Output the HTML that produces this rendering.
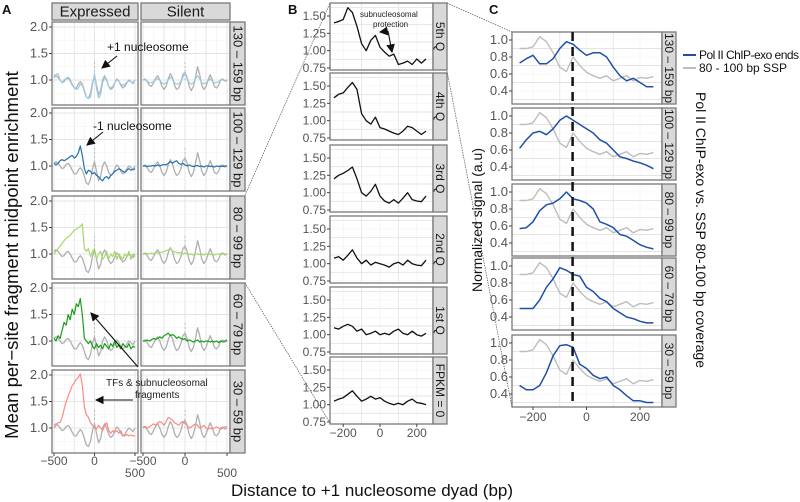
<!DOCTYPE html>
<html><head><meta charset="utf-8"><style>
body{margin:0;background:#fff;}
svg{display:block;font-family:"Liberation Sans",sans-serif;}
</style></head><body>
<svg id="fig" width="800" height="502" viewBox="0 0 800 502" xmlns="http://www.w3.org/2000/svg"></svg>
<script>
// ---------- DATA ----------
const xA = [-500,-475,-450,-425,-400,-375,-350,-325,-300,-275,-250,-225,-200,-175,-150,-125,-100,-75,-50,-25,0,25,50,75,100,125,150,175,200,225,250,275,300,325,350,375,400,425,450,475,500];
const grayExp = [1.05,1.08,1.05,1.0,0.95,0.97,1.03,1.05,1.0,0.92,0.85,0.85,0.92,0.97,0.92,0.8,0.68,0.65,0.75,0.95,1.08,0.9,0.72,0.8,1.0,1.08,1.0,0.88,0.82,0.85,0.95,1.02,0.98,0.9,0.85,0.88,0.95,1.0,0.97,0.93,1.0];
const graySil = [1.0,1.02,0.97,0.9,0.88,0.95,1.03,1.08,1.0,0.88,0.82,0.88,1.02,1.12,1.05,0.9,0.82,0.85,0.95,1.1,1.15,1.05,0.88,0.8,0.88,1.05,1.25,1.1,0.9,0.82,0.88,1.0,1.1,1.0,0.88,0.85,0.9,1.0,1.02,0.98,1.0];
const r1e = [1.08,1.1,1.12,1.0,0.95,1.0,1.03,1.02,0.98,0.9,0.86,0.82,0.85,0.92,0.9,0.78,0.68,0.65,0.68,0.9,1.12,0.85,0.66,0.72,0.95,1.05,0.98,0.88,0.85,0.88,0.95,1.0,0.98,0.92,0.9,0.92,0.96,0.98,0.97,0.95,1.0];
const r1s = [1.0,1.0,0.98,0.95,0.95,0.97,1.0,1.02,1.0,0.95,0.92,0.95,1.0,1.05,1.02,0.95,0.92,0.93,0.97,1.05,1.15,1.02,0.95,0.92,0.95,1.02,1.08,1.02,0.95,0.93,0.95,0.98,1.02,0.98,0.95,0.95,0.97,1.0,1.0,0.98,0.98];
const r2e = [1.05,1.02,1.05,1.1,1.12,1.1,1.12,1.15,1.18,1.2,1.15,1.18,1.25,1.38,1.2,0.95,0.85,0.92,0.9,0.85,0.88,0.82,0.8,0.75,0.72,0.78,0.8,0.76,0.82,0.85,0.9,0.92,0.95,0.93,0.9,0.88,0.92,0.95,0.92,0.93,0.95];
const r2s = [1.0,1.0,0.99,1.0,1.0,1.01,1.0,1.02,1.0,1.02,1.03,1.02,1.05,1.08,1.05,1.08,1.1,1.05,1.03,1.05,1.02,1.0,1.02,1.0,0.99,1.0,1.01,0.99,1.0,0.98,1.0,1.0,0.99,1.0,0.98,1.0,0.99,1.0,0.99,1.0,1.0];
const r3e = [1.0,1.05,1.1,1.15,1.2,1.25,1.3,1.32,1.35,1.4,1.45,1.47,1.5,1.52,1.57,1.1,1.05,1.1,0.95,1.05,1.1,0.9,1.0,1.05,0.9,0.95,1.05,0.9,1.0,0.95,1.05,0.9,1.0,0.95,0.9,1.0,0.95,1.05,0.9,1.0,0.95];
const r3s = [1.0,1.0,1.01,1.0,1.02,1.0,1.03,1.02,1.04,1.03,1.05,1.06,1.08,1.1,1.06,1.04,1.03,1.02,1.03,1.0,1.02,1.0,0.99,1.0,0.98,1.0,1.0,0.99,1.0,0.98,1.0,1.0,0.99,1.0,0.98,1.0,1.0,0.99,1.0,1.0,1.0];
const r4e = [1.05,1.0,1.1,1.05,1.2,1.35,1.3,1.5,1.4,1.6,1.5,1.7,1.65,1.8,1.5,1.05,1.0,0.95,1.0,0.9,0.85,0.95,0.88,0.92,0.85,0.95,0.9,0.85,0.95,0.9,1.0,0.88,0.92,0.85,0.95,0.9,0.88,0.95,0.85,0.9,0.88];
const r4s = [1.0,1.0,1.02,1.0,1.02,1.05,1.03,1.05,1.08,1.05,1.1,1.12,1.15,1.1,1.12,1.1,1.05,1.08,1.05,1.03,1.05,1.0,1.02,1.0,0.98,1.0,1.02,0.98,1.0,0.98,1.0,1.0,0.98,1.0,0.98,1.0,0.97,1.0,0.98,1.0,1.02];
const r5e = [1.0,1.05,1.1,1.1,1.2,1.35,1.5,1.6,1.7,1.8,1.85,1.92,1.95,2.02,1.8,1.4,1.25,1.2,1.1,1.05,1.0,0.98,1.05,1.0,0.95,1.05,1.1,0.95,0.9,0.95,0.92,0.95,0.9,0.95,0.85,0.85,0.88,0.85,0.87,0.85,0.85];
const r5s = [1.02,1.03,1.0,1.02,1.05,1.08,1.05,1.1,1.12,1.1,1.05,1.12,1.2,1.18,1.15,1.1,1.08,1.05,1.1,1.12,1.08,1.05,1.0,1.02,1.05,1.08,1.05,1.0,1.02,1.05,1.0,0.98,1.0,0.98,1.0,1.02,1.0,0.98,1.0,1.02,1.03];
const rowLabelsA = ["130 – 159 bp","100 – 129 bp","80 – 99 bp","60 – 79 bp","30 – 59 bp"];
const colorsA = ["#9ecae1","#2171b5","#a6d96a","#1a9e1a","#fb8a84"];
const yTicksA = [1.0,1.5,2.0];
const xTicksA = [-500,0,500];

const xB = [-250,-225,-200,-175,-150,-125,-100,-75,-50,-25,0,25,50,75,100,125,150,175,200,225,250];
const q5 = [1.4,1.42,1.45,1.62,1.55,1.35,1.1,1.0,1.15,1.22,1.05,0.98,0.92,0.95,0.8,0.82,0.85,0.8,0.88,0.82,0.88];
const q4 = [1.33,1.38,1.4,1.48,1.55,1.45,1.1,1.0,0.95,1.05,0.9,0.88,0.85,0.82,0.8,0.85,0.92,0.9,0.85,0.8,0.85];
const q3 = [1.2,1.25,1.28,1.32,1.37,1.2,1.0,0.95,1.02,1.12,0.95,0.88,0.85,0.9,0.85,0.92,1.0,0.9,0.88,0.87,0.95];
const q2 = [1.08,1.1,1.05,1.12,1.2,1.08,1.0,1.05,0.98,1.02,1.0,0.98,0.95,1.0,1.02,0.98,1.05,1.0,0.98,0.97,1.05];
const q1 = [1.1,1.08,1.12,1.15,1.12,1.05,1.08,1.0,1.02,1.05,1.0,1.02,1.0,1.05,1.08,1.02,1.0,1.05,1.0,0.98,1.02];
const fpkm0 = [1.05,1.08,1.1,1.15,1.2,1.12,1.05,1.08,1.12,1.08,1.1,1.05,1.02,1.0,1.02,1.0,1.05,1.08,1.03,1.02,1.0];
const rowLabelsB = ["5th Q","4th Q","3rd Q","2nd Q","1st Q","FPKM = 0"];
const yTicksB = [0.75,1.0,1.25,1.5];
const xTicksB = [-200,0,200];

const xC = [-250,-225,-200,-175,-150,-125,-100,-75,-50,-25,0,25,50,75,100,125,150,175,200,225,250];
const graySSP = [0.9,0.9,0.92,1.04,0.98,0.85,0.68,0.63,0.8,0.7,0.62,0.58,0.55,0.58,0.52,0.55,0.58,0.52,0.56,0.55,0.57];
const c1 = [0.73,0.78,0.82,0.72,0.72,0.78,0.9,0.98,0.95,0.88,0.82,0.85,0.85,0.8,0.68,0.58,0.52,0.55,0.5,0.45,0.45];
const c2 = [0.62,0.72,0.8,0.82,0.78,0.85,0.95,1.0,0.95,0.9,0.85,0.8,0.72,0.68,0.6,0.52,0.5,0.47,0.45,0.42,0.38];
const c3 = [0.57,0.58,0.65,0.78,0.85,0.87,0.92,1.0,0.92,0.9,0.87,0.8,0.65,0.62,0.58,0.5,0.48,0.43,0.38,0.35,0.33];
const c4 = [0.5,0.5,0.5,0.6,0.75,0.85,0.98,0.95,0.9,0.88,0.75,0.7,0.62,0.58,0.5,0.45,0.4,0.38,0.35,0.33,0.33];
const c5 = [0.5,0.45,0.45,0.5,0.65,0.85,0.97,0.98,0.95,0.75,0.7,0.62,0.58,0.6,0.5,0.45,0.38,0.32,0.32,0.3,0.3];
const rowLabelsC = ["130 – 159 bp","100 – 129 bp","80 – 99 bp","60 – 79 bp","30 – 59 bp"];
const yTicksC = [0.4,0.6,0.8,1.0];
const xTicksC = [-200,0,200];
const dashPos = -52;

// ---------- DRAW ----------
const NS="http://www.w3.org/2000/svg";
const svg=document.getElementById('fig');
function el(tag,attrs,parent,text){const e=document.createElementNS(NS,tag);for(const k in attrs)e.setAttribute(k,attrs[k]);if(text!==undefined)e.textContent=text;(parent||svg).appendChild(e);return e;}
function lin(d0,d1,r0,r1){return v=>r0+(v-d0)/(d1-d0)*(r1-r0);}
function grp(name){const g=el('g',{});
  
  
  return g;}
function panelBg(g,x,y,w,h,sx,sy,xg,yg){
  el('rect',{x:x,y:y,width:w,height:h,fill:'#fff'},g);
  xg.forEach((v,i)=>{const px=sx(v);if(px>x&&px<x+w)el('line',{x1:px,x2:px,y1:y,y2:y+h,stroke:i%2?'#f2f2f2':'#e4e4e4','stroke-width':i%2?0.6:0.9},g);});
  yg.forEach((v,i)=>{const py=sy(v);if(py>y&&py<y+h)el('line',{x1:x,x2:x+w,y1:py,y2:py,stroke:i%2?'#f2f2f2':'#e4e4e4','stroke-width':i%2?0.6:0.9},g);});
}
function frame(g,x,y,w,h){el('rect',{x:x,y:y,width:w,height:h,fill:'none',stroke:'#7a7a7a','stroke-width':1.3},g);}
function line(g,name,xs,ys,sx,sy,color,wd){
  const p=el('polyline',{points:xs.map((v,i)=>sx(v).toFixed(1)+','+sy(ys[i]).toFixed(1)).join(' '),fill:'none',stroke:color,'stroke-width':wd||1.2,'stroke-linejoin':'round'},g);
  
  
}
function strip(name,x,y,w,h,label,vertical,fs){
  const g=grp(name);
  el('rect',{x:x,y:y,width:w,height:h,fill:'#d9d9d9',stroke:'#7a7a7a','stroke-width':1.3},g);
  if(vertical) el('text',{transform:`translate(${x+w/2-4},${y+h/2}) rotate(90)`,'text-anchor':'middle','font-size':fs||12,fill:'#1a1a1a'},g,label);
  else el('text',{x:x+w/2,y:y+h/2+5,'text-anchor':'middle','font-size':fs||14,fill:'#1a1a1a'},g,label);
}
function ytick(g,x,py,label,fs){el('line',{x1:x-3,x2:x,y1:py,y2:py,stroke:'#444'},g);el('text',{x:x-4,y:py+4,'text-anchor':'end','font-size':fs||12,fill:'#555'},g,label);}
function xtick(g,px,y,label,ly){el('line',{x1:px,x2:px,y1:y,y2:y+3,stroke:'#444'},g);el('text',{x:px,y:ly,'text-anchor':'middle','font-size':12,fill:'#555'},g,label);}

// ---- Panel A ----
const rowsAy=[22,108,196,283,370], hA=83;
const colAx=[52,141];
const expData=[r1e,r2e,r3e,r4e,r5e], silData=[r1s,r2s,r3s,r4s,r5s];
const gridAx=[-500,-375,-250,-125,0,125,250,375,500];
const gridAy=[0.5,0.75,1.0,1.25,1.5,1.75,2.0];
strip('strip-expressed',52,3,86,17,'Expressed',false,15);
strip('strip-silent',141,3,89,17,'Silent',false,15);
rowsAy.forEach((ry,r)=>{
  const sy=lin(1.0,2.0,ry+58,ry+5);
  [0,1].forEach(c=>{
    const x0=colAx[c], w=c?89:86;
    const sx=lin(-500,500,x0+2,x0+w-3);
    const g=grp('panel-a-'+(c?'silent':'expressed')+'-'+(r+1));
    panelBg(g,x0,ry,w,hA,sx,sy,gridAx,gridAy);
    el('line',{x1:sx(0),x2:sx(0),y1:sy(1.0),y2:sy(1.35),stroke:'#bbb','stroke-dasharray':'2,2','stroke-width':1},g);
    line(g,'reference-line',xA,c?graySil:grayExp,sx,sy,'#b0b0b0',1.3);
    line(g,'enrichment-line',xA,c?silData[r]:expData[r],sx,sy,colorsA[r],1.2);
    frame(g,x0,ry,w,hA);
    if(c===0) yTicksA.forEach(v=>ytick(g,x0,sy(v),v.toFixed(1),13));
    if(r===4){xTicksA.forEach(v=>xtick(g,sx(v),ry+hA,v<0?'−500':String(v),v===500?477:465));}
  });
  strip('strip-a-'+(r+1),230,ry,15,hA,rowLabelsA[r],true,13);
});
el('text',{transform:'translate(18,255) rotate(-90)','text-anchor':'middle','font-size':18.5,fill:'#111'},svg,'Mean per−site fragment midpoint enrichment');

// ---- Panel B ----
const rowsBy=[3,73,145,216,287,357], hB=67;
const dataB=[q5,q4,q3,q2,q1,fpkm0];
const sxB=lin(-250,250,334,426);
rowsBy.forEach((ry,r)=>{
  const sy=lin(0.75,1.5,ry+65,ry+13);
  const g=grp('panel-b-'+(r+1));
  panelBg(g,330,ry,103,hB,sxB,sy,[-300,-200,-100,0,100,200,300],[0.625,0.75,0.875,1.0,1.125,1.25,1.375,1.5,1.625]);
  line(g,'profile-line',xB,dataB[r],sxB,sy,'#111',1.3);
  frame(g,330,ry,103,hB);
  yTicksB.forEach(v=>ytick(g,330,sy(v),v.toFixed(2)));
  if(r===5) xTicksB.forEach(v=>xtick(g,sxB(v),ry+hB,v<0?'−200':String(v),437));
  strip('strip-b-'+(r+1),433,ry,14,hB,rowLabelsB[r],true);
});

// ---- Panel C ----
const rowsCy=[32,108,184,258,335], hC=72;
const dataC=[c1,c2,c3,c4,c5];
const sxC=lin(-200,200,533,640);
rowsCy.forEach((ry,r)=>{
  const sy=lin(0.4,1.0,ry+59,ry+8);
  const g=grp('panel-c-'+(r+1));
  panelBg(g,512,ry,150,hC,sxC,sy,[-300,-200,-100,0,100,200,300],[0.3,0.4,0.5,0.6,0.7,0.8,0.9,1.0,1.1]);
  line(g,'ssp-line',xC,graySSP,sxC,sy,'#bdbdbd',1.4);
  line(g,'chip-exo-line',xC,dataC[r],sxC,sy,'#1f4fa8',1.5);
  frame(g,512,ry,150,hC);
  yTicksC.forEach(v=>ytick(g,512,sy(v),v.toFixed(1),13));
  if(r===4) xTicksC.forEach(v=>xtick(g,sxC(v),ry+hC,v<0?'−200':String(v),421));
  strip('strip-c-'+(r+1),662,ry,14,hC,rowLabelsC[r],true);
});
const dl=el('line',{x1:sxC(dashPos),x2:sxC(dashPos),y1:32,y2:407,stroke:'#111','stroke-width':2.5,'stroke-dasharray':'9,6'});


el('text',{transform:'translate(482,220) rotate(-90)','text-anchor':'middle','font-size':14,fill:'#111'},svg,'Normalized signal (a.u)');
el('text',{transform:'translate(696,230) rotate(90)','text-anchor':'middle','font-size':14,fill:'#111'},svg,'Pol II ChIP-exo vs. SSP 80-100 bp coverage');

// legend
const lg=grp('legend');
el('line',{x1:683,x2:696,y1:55,y2:55,stroke:'#1f4fa8','stroke-width':2},lg);
el('text',{x:699,y:59,'font-size':12,fill:'#111',textLength:100},lg,'Pol II ChIP-exo ends');
el('line',{x1:683,x2:696,y1:68,y2:68,stroke:'#bdbdbd','stroke-width':2},lg);
el('text',{x:699,y:72,'font-size':12,fill:'#111'},lg,'80 - 100 bp SSP');

// connectors
[[245,195,330,3],[245,283,330,423],[447,3,512,32],[447,71,512,407]].forEach(c=>{
  const l=el('line',{x1:c[0],y1:c[1],x2:c[2],y2:c[3],stroke:'#666','stroke-width':0.8,'stroke-dasharray':'1.5,1'});
  
  
});

// annotations
const an=grp('annotations');
el('defs',{},an).innerHTML='<marker id="ah" markerWidth="8" markerHeight="8" refX="7" refY="4" orient="auto"><path d="M0,0 L8,4 L0,8 Z" fill="#111"/></marker>';
function arrow(x1,y1,x2,y2){el('line',{x1,y1,x2,y2,stroke:'#111','stroke-width':1.1,'marker-end':'url(#ah)'},an);}
el('text',{x:107,y:51,'font-size':12,fill:'#111'},an,'+1 nucleosome');
arrow(117,56,102,68);
el('text',{x:93,y:130,'font-size':12,fill:'#111'},an,'-1 nucleosome');
arrow(103,132,87,145);
el('text',{x:106,y:386,'font-size':10,fill:'#222'},an,'TFs & subnucleosomal');
el('text',{x:135,y:398,'font-size':10,fill:'#222'},an,'fragments');
arrow(138,367,91,313);
arrow(133,400,96,400);
el('text',{x:360,y:17,'font-size':8,fill:'#222'},an,'subnucleosomal');
el('text',{x:373,y:27,'font-size':8,fill:'#222'},an,'protection');
arrow(388,31,380,32);
arrow(388,31,392,52);

// panel letters & x title
el('text',{x:2,y:14,'font-size':13,'font-weight':'bold',fill:'#111'},svg,'A');
el('text',{x:288,y:14,'font-size':13,'font-weight':'bold',fill:'#111'},svg,'B');
el('text',{x:489,y:14,'font-size':13,'font-weight':'bold',fill:'#111'},svg,'C');
el('text',{x:372,y:496,'text-anchor':'middle','font-size':17,fill:'#111'},svg,'Distance to +1 nucleosome dyad (bp)');
</script>
</body></html>
